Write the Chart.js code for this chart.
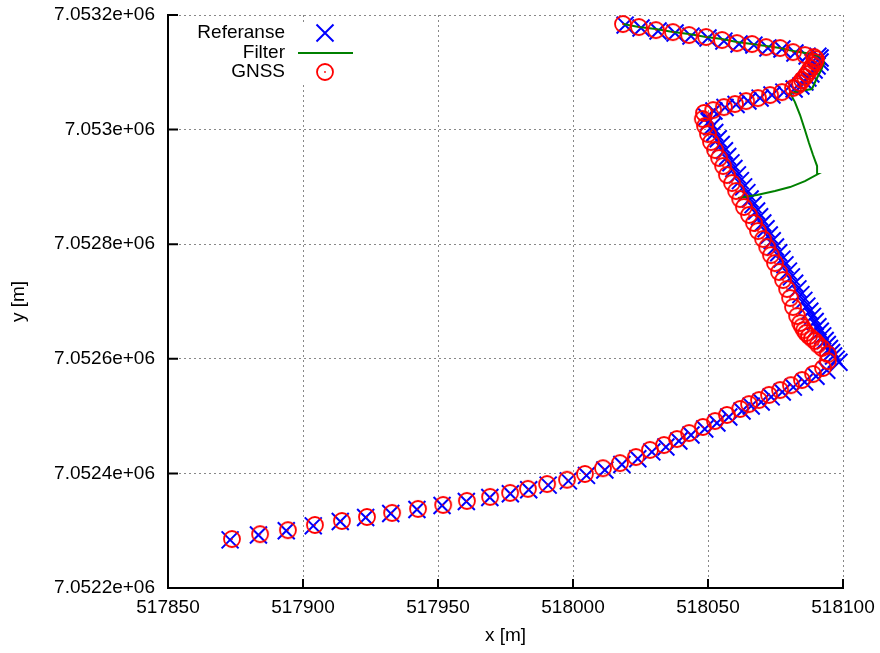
<!DOCTYPE html>
<html>
<head>
<meta charset="utf-8">
<title>Referanse / Filter / GNSS</title>
<script src="https://cdn.jsdelivr.net/npm/chart.js"></script>
<style>
  body { margin: 0; background: #fff; }
  canvas { display: block; }
</style>
</head>
<body>
<canvas id="posisjon" width="880" height="653"></canvas>
<script>
// ---- data (x [m], y [m]) ----
const seriesLabels = ["Referanse", "Filter", "GNSS"];

const xTicks = [517850, 517900, 517950, 518000, 518050, 518100];
const xTickLabels = ["517850", "517900", "517950", "518000", "518050", "518100"];
const yTicks = [7052200, 7052400, 7052600, 7052800, 7053000, 7053200];
const yTickLabels = ["7.0522e+06", "7.0524e+06", "7.0526e+06", "7.0528e+06", "7.053e+06", "7.0532e+06"];

const refX = [
    517873.0, 517883.5, 517893.8, 517903.8, 517913.8, 517923.2, 517932.5, 517942.2, 517951.5, 517960.5,
    517969.2, 517976.8, 517983.6, 517990.8, 517998.3, 518005.0, 518011.8, 518018.1, 518024.0, 518029.2,
    518034.4, 518039.2, 518043.7, 518048.8, 518053.3, 518057.7, 518062.6, 518066.0, 518069.7, 518073.4,
    518077.5, 518081.6, 518085.8, 518090.0, 518094.0,
    518098.5, 518097.5, 518096.5, 518095.8, 518095.0, 518094.2, 518093.4, 518092.5, 518091.6, 518090.7,
    518089.7, 518088.7, 518087.7, 518086.6, 518085.5, 518084.4, 518083.3, 518082.1, 518080.9, 518079.8,
    518078.5, 518077.4, 518076.2, 518075.0, 518073.8, 518072.7, 518071.5, 518070.3, 518069.1, 518068.0,
    518066.7, 518065.6, 518064.4, 518063.2, 518062.0, 518060.9, 518059.6, 518058.5, 518057.3, 518056.1,
    518054.9, 518053.8, 518052.5, 518051.4, 518050.4, 518049.5,
    518052.2, 518056.3, 518060.4, 518064.8, 518069.3, 518073.7, 518078.1, 518081.9,
    518084.4, 518085.9, 518087.0, 518088.1, 518089.3, 518090.4, 518091.5, 518091.5, 518090.7,
    518086.7, 518082.2, 518077.4, 518072.2, 518067.0, 518061.5, 518055.9, 518050.0, 518043.7, 518037.8,
    518031.5, 518025.2, 518019.3
];
const refY = [
    7052284, 7052292.5, 7052300, 7052308.5, 7052316, 7052323, 7052330, 7052337, 7052344, 7052351,
    7052358, 7052364.5, 7052371.5, 7052379.5, 7052387, 7052396.5, 7052406, 7052415.5, 7052425.5, 7052437.5,
    7052446, 7052456.5, 7052467, 7052477.5, 7052488, 7052498.5, 7052509, 7052517.5, 7052524.5, 7052533.5,
    7052542, 7052550.5, 7052559.5, 7052569.5, 7052580,
    7052594, 7052599, 7052605, 7052611, 7052618, 7052625, 7052632, 7052640, 7052648, 7052656,
    7052665, 7052674, 7052683, 7052692, 7052702, 7052712, 7052722, 7052732, 7052743, 7052753,
    7052764, 7052774, 7052785, 7052795, 7052806, 7052816, 7052827, 7052837, 7052848, 7052858,
    7052869, 7052879, 7052890, 7052900, 7052911, 7052921, 7052932, 7052942, 7052953, 7052963,
    7052974, 7052984, 7052995, 7053005, 7053014, 7053022,
    7053032.4, 7053038.5, 7053043.7, 7053049.8, 7053055, 7053060.3, 7053065.5, 7053070.8,
    7053076, 7053083, 7053090, 7053097, 7053104, 7053111, 7053118, 7053125, 7053128,
    7053128.3, 7053133.6, 7053140.6, 7053142.3, 7053147.5, 7053149.3, 7053154.5, 7053159.8, 7053163.2, 7053168.5,
    7053172, 7053177.2, 7053182.4
];

const filterX = [
    518061.1, 518068.1, 518074.8, 518080.4, 518085.9, 518090.7, 518090.4, 518088.9, 518087.4, 518085.9,
    518084.1, 518082.2, 518080.4, 518084.1, 518088.5, 518090.0, 518091.9, 518093.0, 518091.9, 518088.5,
    518081.5, 518076.7, 518071.5, 518066.3, 518060.7, 518055.2, 518049.3, 518043.0, 518037.0, 518030.7,
    518024.4, 518018.5
];
const filterY = [
    7052880.6, 7052885.8, 7052892.8, 7052899.7, 7052910.2, 7052922.4, 7052936.4, 7052955.6, 7052976.5, 7052999.2,
    7053025.4, 7053048, 7053063.8, 7053067.3, 7053070.8, 7053086.5, 7053104, 7053116, 7053126.6, 7053131.8,
    7053137, 7053142.3, 7053145.8, 7053149.3, 7053152.8, 7053158, 7053161.5, 7053166.7, 7053170.2, 7053175.5,
    7053179, 7053184.2
];

const gnssX = [
    517873.7, 517884.1, 517894.4, 517904.4, 517914.4, 517923.7, 517933.0, 517942.6, 517951.9, 517960.7,
    517969.3, 517976.7, 517983.3, 517990.4, 517997.8, 518004.4, 518011.1, 518017.4, 518023.3, 518028.5,
    518033.7, 518038.5, 518043.0, 518048.1, 518052.6, 518057.0, 518061.9, 518065.2, 518068.9, 518072.6,
    518076.7, 518080.7, 518084.8, 518088.9, 518092.6, 518094.4, 518094.4,
    518092.2, 518090.7, 518089.6, 518088.5, 518087.4, 518086.3, 518085.6, 518084.8, 518084.1,
    518083.0, 518081.5, 518080.4, 518079.3, 518077.8, 518076.3, 518074.8, 518073.3, 518071.9, 518070.4,
    518068.5, 518067.0, 518065.2, 518063.3, 518061.9, 518060.4, 518058.9, 518057.0, 518055.6, 518054.1,
    518052.6, 518051.1, 518050.0, 518048.9, 518048.1, 518048.5,
    518051.9, 518055.9, 518060.0, 518064.1, 518068.5, 518073.0, 518077.4, 518081.5,
    518083.0, 518084.1, 518084.8, 518085.9, 518086.7, 518087.4, 518088.1, 518088.9, 518089.6, 518090.0, 518089.3,
    518085.9, 518081.5, 518076.7, 518071.5, 518066.3, 518060.7, 518055.2, 518049.3, 518043.0, 518037.0,
    518030.7, 518024.4, 518018.5
];
const gnssY = [
    7052285.5, 7052294, 7052301, 7052310, 7052317, 7052324, 7052331, 7052338, 7052345, 7052352,
    7052359, 7052366, 7052373, 7052381.5, 7052389, 7052399, 7052409, 7052418, 7052428.6, 7052441,
    7052449.5, 7052460, 7052470.5, 7052481, 7052491.4, 7052502, 7052512.4, 7052521, 7052528, 7052537,
    7052545.5, 7052554, 7052563, 7052573.4, 7052584, 7052596, 7052608,
    7052618.8, 7052624.9, 7052631, 7052635.4, 7052639.7, 7052645, 7052650, 7052656.3, 7052662.4,
    7052674.6, 7052690.3, 7052706, 7052721.8, 7052737.5, 7052751.4, 7052767, 7052781, 7052795, 7052809,
    7052823, 7052837, 7052851, 7052865, 7052878.8, 7052892.8, 7052906.7, 7052920.7, 7052936.4, 7052950.4,
    7052964.3, 7052978.3, 7052992.2, 7053006.2, 7053018.4, 7053029,
    7053034, 7053039.3, 7053044.6, 7053049.8, 7053055, 7053060.3, 7053065.5, 7053072.5,
    7053076, 7053081.2, 7053086.5, 7053091.7, 7053097, 7053102.2, 7053107.4, 7053112.6, 7053117.9, 7053123, 7053126.6,
    7053130, 7053135.3, 7053142.3, 7053144, 7053149.3, 7053151, 7053156.3, 7053161.5, 7053165, 7053170.2,
    7053173.7, 7053179, 7053184.2
];

// ---- helpers ----
function toPoints(xs, ys) {
    return xs.map((x, i) => ({ x: x, y: ys[i] }));
}

// gnuplot style open circle with a dot in the middle
function circleMarker() {
    const c = document.createElement("canvas");
    c.width = 22;
    c.height = 22;
    const g = c.getContext("2d");
    g.strokeStyle = "#ff0000";
    g.fillStyle = "#ff0000";
    g.lineWidth = 1.8;
    g.beginPath();
    g.arc(11, 11, 8, 0, Math.PI * 2);
    g.stroke();
    g.beginPath();
    g.arc(11, 11, 0.9, 0, Math.PI * 2);
    g.fill();
    return c;
}
const gnssMarker = circleMarker();

// ticks pointing into the plot, left and bottom only
const inwardTicks = {
    id: "inwardTicks",
    afterDraw(chart) {
        const ctx = chart.ctx;
        const a = chart.chartArea;
        const sx = chart.scales.x;
        const sy = chart.scales.y;
        ctx.save();
        ctx.strokeStyle = "#000";
        ctx.lineWidth = 2;
        ctx.beginPath();
        sx.ticks.forEach(t => {
            const px = sx.getPixelForValue(t.value);
            ctx.moveTo(px, a.bottom);
            ctx.lineTo(px, a.bottom - 9);
        });
        sy.ticks.forEach(t => {
            const py = sy.getPixelForValue(t.value);
            ctx.moveTo(a.left, py);
            ctx.lineTo(a.left + 10, py);
        });
        ctx.stroke();
        ctx.restore();
    }
};

// key inside the plot: text right aligned, sample to the right
const keyBox = {
    id: "keyBox",
    afterDraw(chart) {
        const ctx = chart.ctx;
        const a = chart.chartArea;
        const textRight = a.left + 117;
        const sampleX = a.left + 157;
        const rowY = [a.top + 18, a.top + 38, a.top + 57];
        ctx.save();
        ctx.fillStyle = "#fff";
        ctx.fillRect(a.left + 22, a.top + 8, 172, 60);
        ctx.font = "19px 'Liberation Sans', Arial, sans-serif";
        ctx.fillStyle = "#000";
        ctx.textAlign = "right";
        ctx.textBaseline = "middle";
        chart.data.datasets.forEach((ds, i) => {
            ctx.fillText(ds.label, textRight, rowY[i]);
        });
        // Referanse: X
        ctx.strokeStyle = "#0000ff";
        ctx.lineWidth = 2;
        ctx.beginPath();
        ctx.moveTo(sampleX - 8.5, rowY[0] - 8.5);
        ctx.lineTo(sampleX + 8.5, rowY[0] + 8.5);
        ctx.moveTo(sampleX + 8.5, rowY[0] - 8.5);
        ctx.lineTo(sampleX - 8.5, rowY[0] + 8.5);
        ctx.stroke();
        // Filter: line
        ctx.strokeStyle = "#008000";
        ctx.beginPath();
        ctx.moveTo(sampleX - 27, rowY[1]);
        ctx.lineTo(sampleX + 28, rowY[1]);
        ctx.stroke();
        // GNSS: circle
        ctx.drawImage(gnssMarker, sampleX - 11, rowY[2] - 11);
        ctx.restore();
    }
};

function zeroPadding(scale) {
    scale.paddingLeft = 0;
    scale.paddingRight = 0;
    scale.paddingTop = 0;
    scale.paddingBottom = 0;
}

Chart.defaults.font.family = "'Liberation Sans', Arial, sans-serif";
Chart.defaults.font.size = 19;
Chart.defaults.color = "#000";

let posisjon = new Chart(document.getElementById("posisjon"), {
    type: "scatter",
    data: {
        datasets: [
            {
                label: seriesLabels[0],
                data: toPoints(refX, refY),
                pointStyle: "crossRot",
                pointRadius: 12,
                borderColor: "#0000ff",
                backgroundColor: "#0000ff",
                borderWidth: 2,
                showLine: false,
                clip: false,
                order: 3
            },
            {
                label: seriesLabels[1],
                data: toPoints(filterX, filterY),
                showLine: true,
                pointRadius: 0,
                borderColor: "#008000",
                borderWidth: 2,
                tension: 0,
                order: 2
            },
            {
                label: seriesLabels[2],
                data: toPoints(gnssX, gnssY),
                pointStyle: gnssMarker,
                pointRadius: 8,
                borderColor: "#ff0000",
                showLine: false,
                clip: false,
                order: 1
            }
        ]
    },
    options: {
        responsive: false,
        animation: false,
        events: [],
        layout: {
            padding: { left: 0, right: 37, top: 15, bottom: 0 }
        },
        scales: {
            x: {
                type: "linear",
                min: 517850,
                max: 518100,
                afterBuildTicks: (scale) => { scale.ticks = xTicks.map(v => ({ value: v })); },
                afterFit: (scale) => { scale.height = 65; zeroPadding(scale); },
                ticks: {
                    padding: 8,
                    maxRotation: 0,
                    callback: (value, index) => xTickLabels[index]
                },
                grid: {
                    color: "#888",
                    lineWidth: 1,
                    drawTicks: false
                },
                border: { display: true, color: "#000", width: 2, dash: [2, 3] },
                title: {
                    display: true,
                    text: "x [m]",
                    padding: { top: 0, bottom: 6 }
                }
            },
            y: {
                type: "linear",
                min: 7052200,
                max: 7053200,
                afterBuildTicks: (scale) => { scale.ticks = yTicks.map(v => ({ value: v })); },
                afterFit: (scale) => { scale.width = 168; zeroPadding(scale); },
                ticks: {
                    padding: 13,
                    callback: (value, index) => yTickLabels[index]
                },
                grid: {
                    color: "#888",
                    lineWidth: 1,
                    drawTicks: false
                },
                border: { display: true, color: "#000", width: 2, dash: [2, 3] },
                title: {
                    display: true,
                    text: "y [m]",
                    padding: { top: 7, bottom: 0 }
                }
            }
        },
        plugins: {
            legend: { display: false },
            title: { display: false },
            tooltip: { enabled: false }
        }
    },
    plugins: [inwardTicks, keyBox]
});
</script>
</body>
</html>
